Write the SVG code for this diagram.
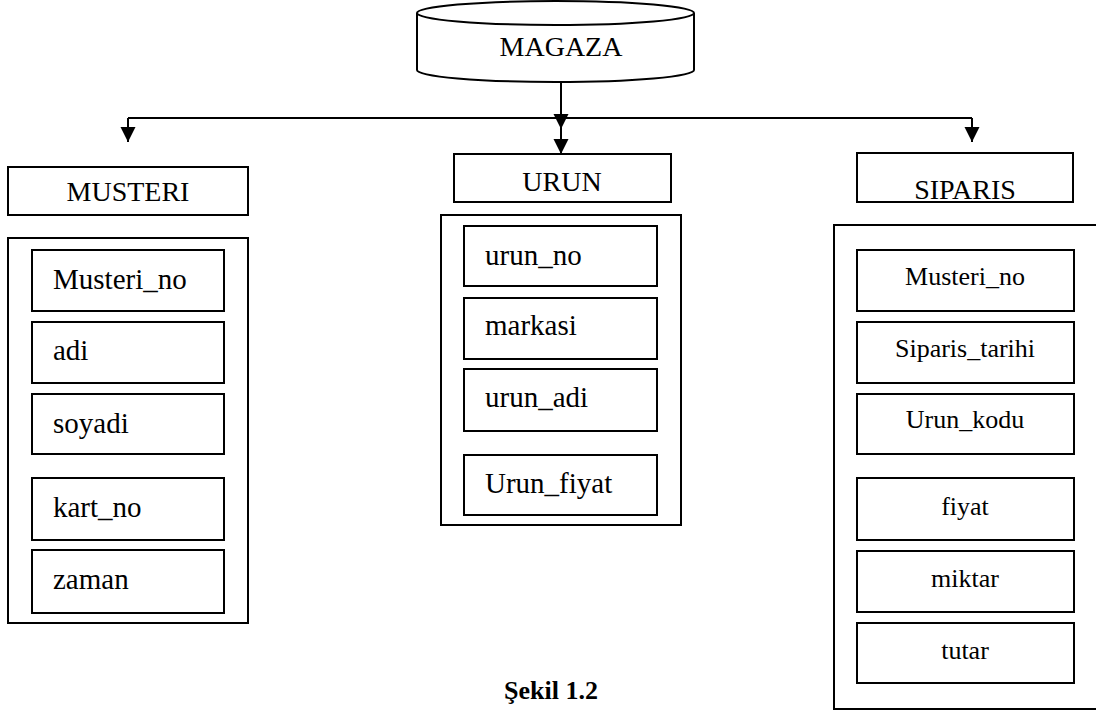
<svg xmlns="http://www.w3.org/2000/svg" width="1096" height="720" viewBox="0 0 1096 720">
<defs>
<marker id="arr" markerWidth="16" markerHeight="16" refX="15" refY="7.5" orient="auto" markerUnits="userSpaceOnUse">
<path d="M0,0 L15,7.5 L0,15 Z" fill="#000"/>
</marker>
<style>
.box{fill:#fff;stroke:#000;stroke-width:2}
text{font-family:"Liberation Serif","Times New Roman",serif;fill:#000}
.h{font-size:28px;text-anchor:middle}
.l{font-size:29px}
.r{font-size:26px;text-anchor:middle}
.c{stroke:#000;stroke-width:2;fill:none}
</style>
</defs>
<rect x="0" y="0" width="1096" height="720" fill="#fff"/>
<g id="magaza">
<path class="box" d="M417,13 V70 A138.5,12 0 0 0 694,70 V13"/>
<ellipse class="box" cx="555.5" cy="13" rx="138.5" ry="12"/>
<text class="h" x="561" y="56">MAGAZA</text>
</g>
<g id="connectors">
<line class="c" x1="128" y1="118" x2="972" y2="118"/>
<line class="c" x1="128" y1="118" x2="128" y2="142" marker-end="url(#arr)"/>
<line class="c" x1="972" y1="118" x2="972" y2="142" marker-end="url(#arr)"/>
<line class="c" x1="561" y1="82" x2="561" y2="129" marker-end="url(#arr)"/>
<line class="c" x1="561" y1="129" x2="561" y2="154" marker-end="url(#arr)"/>
</g>
<g id="musteri">
<rect class="box" x="8" y="167" width="240" height="48"/>
<text class="h" x="128" y="201">MUSTERI</text>
<rect class="box" x="8" y="238" width="240" height="385"/>
<rect class="box" x="32" y="250" width="192" height="61"/>
<text class="l" x="53" y="289">Musteri_no</text>
<rect class="box" x="32" y="322" width="192" height="61"/>
<text class="l" x="53" y="360">adi</text>
<rect class="box" x="32" y="394" width="192" height="60"/>
<text class="l" x="53" y="433">soyadi</text>
<rect class="box" x="32" y="478" width="192" height="62"/>
<text class="l" x="53" y="517">kart_no</text>
<rect class="box" x="32" y="550" width="192" height="63"/>
<text class="l" x="53" y="589">zaman</text>
</g>
<g id="urun">
<rect class="box" x="454" y="154" width="217" height="48"/>
<text class="h" x="562" y="191">URUN</text>
<rect class="box" x="441" y="215" width="240" height="310"/>
<rect class="box" x="464" y="226" width="193" height="60"/>
<text class="l" x="485" y="265">urun_no</text>
<rect class="box" x="464" y="298" width="193" height="61"/>
<text class="l" x="485" y="335">markasi</text>
<rect class="box" x="464" y="369" width="193" height="62"/>
<text class="l" x="485" y="407">urun_adi</text>
<rect class="box" x="464" y="455" width="193" height="60"/>
<text class="l" x="485" y="493">Urun_fiyat</text>
</g>
<g id="siparis">
<rect class="box" x="857" y="153" width="216" height="49"/>
<text class="h" x="965" y="199">SIPARIS</text>
<rect class="box" x="834" y="225" width="270" height="484"/>
<rect class="box" x="857" y="250" width="217" height="61"/>
<text class="r" x="965" y="285">Musteri_no</text>
<rect class="box" x="857" y="322" width="217" height="61"/>
<text class="r" x="965" y="357">Siparis_tarihi</text>
<rect class="box" x="857" y="394" width="217" height="60"/>
<text class="r" x="965" y="428">Urun_kodu</text>
<rect class="box" x="857" y="478" width="217" height="62"/>
<text class="r" x="965" y="515">fiyat</text>
<rect class="box" x="857" y="551" width="217" height="61"/>
<text class="r" x="965" y="587">miktar</text>
<rect class="box" x="857" y="623" width="217" height="60"/>
<text class="r" x="965" y="659">tutar</text>
</g>
<text id="caption" x="551" y="699" font-size="26" font-weight="bold" text-anchor="middle">Şekil 1.2</text>
</svg>
